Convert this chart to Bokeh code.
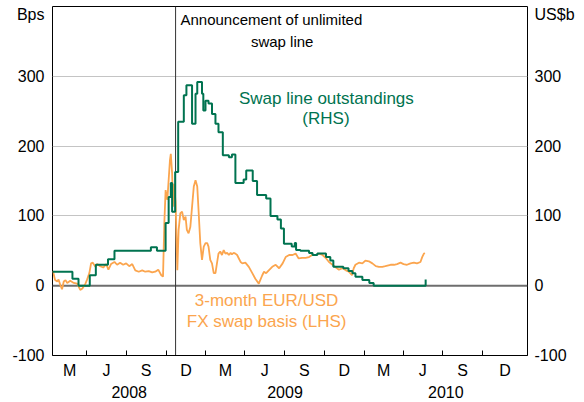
import pandas as pd
from bokeh.plotting import figure
from bokeh.models import Range1d, LinearAxis, FixedTicker, Grid, Span, Label, ColumnDataSource
from bokeh.embed import file_html
from bokeh.resources import INLINE

# ---------------- data ----------------
basis_dates = [
    "2008-01-14", "2008-01-19", "2008-01-24", "2008-01-27", "2008-01-31", "2008-02-04", "2008-02-08",
    "2008-02-12", "2008-02-16", "2008-02-23", "2008-03-02", "2008-03-10", "2008-03-17", "2008-03-22",
    "2008-03-29", "2008-04-02", "2008-04-07", "2008-04-11", "2008-04-15", "2008-04-21", "2008-04-25",
    "2008-05-02", "2008-05-09", "2008-05-16", "2008-05-21", "2008-05-27", "2008-06-04", "2008-06-10",
    "2008-06-17", "2008-06-24", "2008-07-01", "2008-07-08", "2008-07-15", "2008-07-22", "2008-07-30",
    "2008-08-07", "2008-08-14", "2008-08-22", "2008-08-30", "2008-09-06", "2008-09-13", "2008-09-20",
    "2008-09-24", "2008-09-27", "2008-09-30", "2008-10-04", "2008-10-06", "2008-10-10", "2008-10-12",
    "2008-10-15", "2008-10-17", "2008-10-19", "2008-10-23", "2008-10-27", "2008-10-30", "2008-11-03",
    "2008-11-07", "2008-11-11", "2008-11-15", "2008-11-18", "2008-11-22", "2008-11-26", "2008-11-30",
    "2008-12-04", "2008-12-08", "2008-12-12", "2008-12-15", "2008-12-19", "2008-12-23", "2008-12-27",
    "2008-12-31", "2009-01-04", "2009-01-07", "2009-01-11", "2009-01-15", "2009-01-19", "2009-01-23",
    "2009-01-27", "2009-01-30", "2009-02-03", "2009-02-07", "2009-02-11", "2009-02-15", "2009-02-19",
    "2009-02-23", "2009-02-27", "2009-03-02", "2009-03-06", "2009-03-10", "2009-03-14", "2009-03-18",
    "2009-03-22", "2009-03-26", "2009-04-02", "2009-04-10", "2009-04-18", "2009-04-25", "2009-05-03",
    "2009-05-11", "2009-05-15", "2009-05-20", "2009-05-26", "2009-06-03", "2009-06-11", "2009-06-19",
    "2009-06-27", "2009-07-04", "2009-07-12", "2009-07-20", "2009-07-27", "2009-08-03", "2009-08-11",
    "2009-08-19", "2009-08-27", "2009-09-03", "2009-09-11", "2009-09-19", "2009-09-27", "2009-10-04",
    "2009-10-12", "2009-10-20", "2009-10-28", "2009-11-04", "2009-11-12", "2009-11-20", "2009-11-27",
    "2009-12-04", "2009-12-08", "2009-12-12", "2009-12-20", "2009-12-28", "2010-01-04", "2010-01-12",
    "2010-01-20", "2010-01-28", "2010-02-04", "2010-02-12", "2010-02-19", "2010-03-03", "2010-03-11",
    "2010-03-18", "2010-03-26", "2010-04-02", "2010-04-10", "2010-04-18", "2010-04-26", "2010-05-03",
    "2010-05-11", "2010-05-15", "2010-05-19", "2010-05-21",
]
basis_bps = [
    21, 8, 6, 9, 1, -5, 6,
    8, 4, 7, 4, 3, -6, -4,
    3, 9, 18, 32, 33, 27, 31,
    28, 26, 31, 23, 31, 34, 30,
    33, 30, 32, 28, 31, 22, 20,
    22, 20, 21, 19, 20, 23, 15,
    13, 89, 137, 123, 142, 180, 189,
    161, 113, 146, 120, 22, 80, 104,
    106, 94, 99, 80, 75, 84, 113,
    142, 151, 142, 108, 61, 37, 56,
    61, 61, 56, 37, 32, 18, 18,
    34, 46, 49, 44, 51, 46, 47,
    44, 47, 45, 47, 46, 44, 39,
    34, 32, 33, 27, 18, 10, 3,
    15, 20, 18, 22, 27, 30, 25,
    32, 41, 44, 44, 46, 39, 40,
    40, 41, 44, 44, 46, 44, 40,
    34, 30, 26, 23, 25, 22, 20,
    15, 25, 30, 33, 32, 36, 35,
    32, 28, 27, 27, 28, 30, 30,
    31, 33, 31, 30, 32, 33, 32,
    34, 41, 46, 47,
]

swap_dates = [
    "2008-01-13", "2008-02-28", "2008-03-13", "2008-04-08", "2008-04-22", "2008-05-20", "2008-06-04",
    "2008-08-27", "2008-09-10", "2008-09-30", "2008-10-07", "2008-10-12", "2008-10-15", "2008-10-22",
    "2008-10-29", "2008-11-11", "2008-11-17", "2008-11-30", "2008-12-08", "2008-12-12", "2008-12-23",
    "2008-12-26", "2008-12-31", "2009-01-07", "2009-01-15", "2009-01-23", "2009-01-30", "2009-02-09",
    "2009-02-23", "2009-03-02", "2009-03-10", "2009-03-29", "2009-04-04", "2009-04-19", "2009-04-29",
    "2009-05-20", "2009-05-30", "2009-06-15", "2009-06-23", "2009-06-30", "2009-07-18", "2009-07-25",
    "2009-07-28", "2009-08-07", "2009-08-27", "2009-09-04", "2009-09-15", "2009-10-05", "2009-10-15",
    "2009-10-22", "2009-11-14", "2009-11-26", "2009-12-05", "2009-12-12", "2009-12-28", "2010-01-13",
    "2010-01-23", "2010-05-23",
]
swap_usdb = [
    20, 10, 0, 15, 30, 38, 50,
    55, 50, 90, 127, 147, 106, 163,
    235, 273, 287, 232, 275, 292, 275,
    251, 265, 261, 246, 232, 220, 187,
    184, 188, 147, 152, 165, 150, 130,
    125, 100, 95, 82, 60, 56, 61,
    51, 50, 47, 44, 46, 41, 36,
    27, 25, 21, 18, 13, 8, 4,
    0, 9,
]

announcement_date = "2008-10-23"
x_start_date = "2008-01-13"
x_end_date = "2011-01-13"
first_quarter_tick = "2008-04-01"
last_quarter_tick = "2010-10-01"
first_year_tick = "2009-01-01"
last_year_tick = "2010-01-01"
quarter_letters = ["M", "J", "S", "D"]
year_labels = ["2008", "2009", "2010"]
y_ticks = [-100, 0, 100, 200, 300]
y_tick_labels = ["-100", "0", "100", "200", "300"]
grid_ticks = [100, 200, 300]
unit_tick = 388
left_unit = "Bps"
right_unit = "US$b"

GREEN = "#007350"
ORANGE = "#FBA54E"
FONT = "Liberation Sans"


def ms(d):
    return int(pd.Timestamp(d).value // 10**6)


x0, x1 = ms(x_start_date), ms(x_end_date)

# quarter boundaries and label positions
q_bounds_ts = list(pd.date_range(first_quarter_tick, last_quarter_tick, freq="QS"))
q_bounds = [ms(t) for t in q_bounds_ts]
seg_starts = [pd.Timestamp(x_start_date)] + q_bounds_ts
seg_edges = [x0] + q_bounds + [x1]
q_mids = [int((a + b) // 2) for a, b in zip(seg_edges[:-1], seg_edges[1:])]
q_labels = [quarter_letters[(t.month - 1) // 3] for t in seg_starts]

y_bounds_ts = list(pd.date_range(first_year_tick, last_year_tick, freq="YS"))
y_edges = [x0] + [ms(t) for t in y_bounds_ts] + [x1]
yr_mids = [int((a + b) // 2) for a, b in zip(y_edges[:-1], y_edges[1:])]

# ---------------- figure ----------------
p = figure(frame_width=475, frame_height=349,
           min_border_left=52, min_border_right=57, min_border_top=6, min_border_bottom=0,
           x_range=Range1d(x0, x1), y_range=Range1d(-100, 400),
           x_axis_type=None, y_axis_type=None,
           toolbar_location=None, output_backend="svg")
p.outline_line_color = "black"
p.outline_line_width = 1
p.background_fill_color = "white"
p.border_fill_color = "white"

p.add_layout(Grid(dimension=1, ticker=FixedTicker(ticks=grid_ticks),
                  grid_line_color="#c4c4c4", grid_line_width=1))
p.add_layout(Span(location=0, dimension="width", line_color="#6e6e6e",
                  line_width=2, level="underlay"))
p.add_layout(Span(location=ms(announcement_date), dimension="height",
                  line_color="#333333", line_width=1, level="underlay"))


def y_axis(unit, standoff):
    overrides = {t: s for t, s in zip(y_ticks, y_tick_labels)}
    overrides[unit_tick] = unit
    return LinearAxis(ticker=FixedTicker(ticks=y_ticks + [unit_tick], minor_ticks=[]),
                      major_label_overrides=overrides,
                      axis_line_color=None,
                      major_tick_line_color=None, minor_tick_line_color=None,
                      major_tick_in=0, major_tick_out=0, minor_tick_in=0, minor_tick_out=0,
                      major_label_standoff=standoff,
                      major_label_text_font=FONT, major_label_text_font_size="16px",
                      major_label_text_color="black")


p.add_layout(y_axis(left_unit, 8), "left")
p.add_layout(y_axis(right_unit, 7), "right")

qax = LinearAxis(ticker=FixedTicker(ticks=q_mids, minor_ticks=q_bounds),
                 major_label_overrides={m: l for m, l in zip(q_mids, q_labels)},
                 axis_line_color="black",
                 major_tick_line_color=None, major_tick_in=0, major_tick_out=0,
                 minor_tick_line_color="black", minor_tick_in=5, minor_tick_out=0,
                 major_label_standoff=6,
                 major_label_text_font=FONT, major_label_text_font_size="16px",
                 major_label_text_color="black")
p.add_layout(qax, "below")

yax = LinearAxis(ticker=FixedTicker(ticks=yr_mids, minor_ticks=[]),
                 major_label_overrides={m: l for m, l in zip(yr_mids, year_labels)},
                 axis_line_color=None,
                 major_tick_line_color=None, major_tick_in=0, major_tick_out=0,
                 minor_tick_line_color=None, minor_tick_in=0, minor_tick_out=0,
                 major_label_standoff=4,
                 major_label_text_font=FONT, major_label_text_font_size="16px",
                 major_label_text_color="black")
p.add_layout(yax, "below")

basis_src = ColumnDataSource(dict(x=[ms(d) for d in basis_dates], y=basis_bps))
swap_src = ColumnDataSource(dict(x=[ms(d) for d in swap_dates], y=swap_usdb))

p.line("x", "y", source=basis_src, line_color=ORANGE, line_width=1.8)
p.step("x", "y", source=swap_src, mode="after", line_color=GREEN, line_width=2)

labels = [
    ("2009-06-01", 381, "Announcement of unlimited", "black", "15px"),
    ("2009-06-26", 350, "swap line", "black", "15px"),
    ("2009-10-06", 268, "Swap line outstandings", GREEN, "17px"),
    ("2009-10-05", 240, "(RHS)", GREEN, "17px"),
    ("2009-05-21", -21, "3-month EUR/USD", ORANGE, "17px"),
    ("2009-05-21", -51, "FX swap basis (LHS)", ORANGE, "17px"),
]
for d, yv, txt, col, fs in labels:
    p.add_layout(Label(x=ms(d), y=yv, text=txt, text_color=col, text_font=FONT,
                       text_font_size=fs, text_align="center", text_baseline="middle"))

open("out.html", "w").write(file_html(p, INLINE))
